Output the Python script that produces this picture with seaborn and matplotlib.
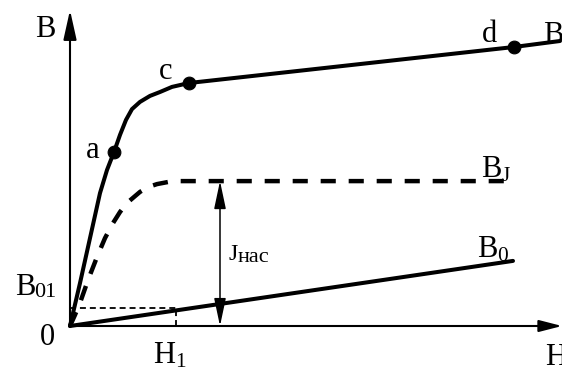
import matplotlib
matplotlib.use("Agg")
import matplotlib.pyplot as plt
import seaborn as sns

# Magnetisation curves (arbitrary units)
H_total = [0, 0.2, 0.4, 0.6, 0.74, 0.88, 1.0, 1.12, 1.24, 1.4, 1.6, 1.8, 2.04, 2.38, 8.88, 9.8]
B_total = [0, 1.43, 2.93, 4.43, 5.2, 5.8, 6.37, 6.87, 7.23, 7.47, 7.67, 7.8, 7.97, 8.1, 9.3, 9.5]

H_j = [0, 0.1, 0.2, 0.36, 0.54, 0.7, 0.86, 1.0, 1.14, 1.28, 1.4, 1.56, 1.74, 1.96, 2.2, 8.7]
B_j = [0, 0.37, 0.77, 1.53, 2.3, 2.93, 3.43, 3.8, 4.1, 4.3, 4.47, 4.63, 4.73, 4.8, 4.83, 4.83]

H_vac = [0, 8.86]
B_vac = [0, 2.17]

# marked points a, c, d on the B curve
pt_H = [0.88, 2.38, 8.88]
pt_B = [5.8, 8.1, 9.3]

H1 = 2.12
B01 = 0.6
H_jsat = 3.0
J_sat = B_j[-1]

sns.set_style("white")
plt.rcParams["font.family"] = ["Liberation Serif", "DejaVu Serif"]
plt.rcParams["mathtext.fontset"] = "custom"
plt.rcParams["mathtext.rm"] = "Liberation Serif"
plt.rcParams["mathtext.it"] = "Liberation Serif:italic"

W, Hpx = 562, 367
fig = plt.figure(figsize=(W / 100, Hpx / 100), dpi=100)
ax = fig.add_axes([0, 0, 1, 1])
ax.set_xlim(-1.4, 9.84)
ax.set_ylim(-41 / 30, 326 / 30)
ax.axis("off")

# coordinate axes with arrow heads
ax.annotate("", xy=(0, 10.53), xytext=(0, 0), annotation_clip=False,
            arrowprops=dict(arrowstyle="-|>,head_length=0.9,head_width=0.2",
                            mutation_scale=20, lw=1.5, color="black",
                            shrinkA=0, shrinkB=0))
ax.annotate("", xy=(9.84, 0), xytext=(0, 0), annotation_clip=False,
            arrowprops=dict(arrowstyle="-|>,head_length=0.7,head_width=0.18",
                            mutation_scale=20, lw=1.5, color="black",
                            shrinkA=0, shrinkB=0))

# thin dashed guides to H1 and B01
ax.plot([0, H1], [B01, B01], color="black", lw=1.3, linestyle=(0, (3.3, 2.2)))
ax.plot([H1, H1], [0, B01], color="black", lw=1.3, linestyle=(0, (3.3, 2.2)))

# curves
sns.lineplot(x=H_total, y=B_total, ax=ax, color="black", linewidth=2.9,
             sort=False, estimator=None, clip_on=False)
sns.lineplot(x=H_j, y=B_j, ax=ax, color="black", linewidth=3.2,
             sort=False, estimator=None, linestyle=(0, (3.4, 2.9)))
sns.lineplot(x=H_vac, y=B_vac, ax=ax, color="black", linewidth=2.9,
             sort=False, estimator=None)
sns.scatterplot(x=pt_H, y=pt_B, ax=ax, color="black", s=85,
                edgecolor="black", zorder=5, clip_on=False)

# saturation magnetisation arrow
ax.annotate("", xy=(H_jsat, J_sat), xytext=(H_jsat, 0),
            arrowprops=dict(arrowstyle="<|-|>,head_length=0.85,head_width=0.18",
                            mutation_scale=20, lw=1.1, color="black",
                            shrinkA=0, shrinkB=0))


def put(px, py, s, size=22):
    fig.text(px / W, 1 - py / Hpx, s, fontsize=size, ha="left",
             va="baseline", color="black")


put(35, 37, "B")
put(86, 158, "a")
put(159, 79, "c")
put(482, 42, "d")
put(543, 43, "B")
put(481, 177, r"$\mathrm{B}_{\mathrm{J}}$")
put(228, 260, "J", size=17)
put(238, 262, "нас", size=16)
put(477, 257, r"$\mathrm{B}_{\mathrm{0}}$")
put(15, 295, "B")
put(34, 297, "01", size=16)
put(40, 345, "0")
put(153, 363, r"$\mathrm{H}_{\mathrm{1}}$")
put(545, 365, "H")

fig.savefig("out.png", dpi=100)
